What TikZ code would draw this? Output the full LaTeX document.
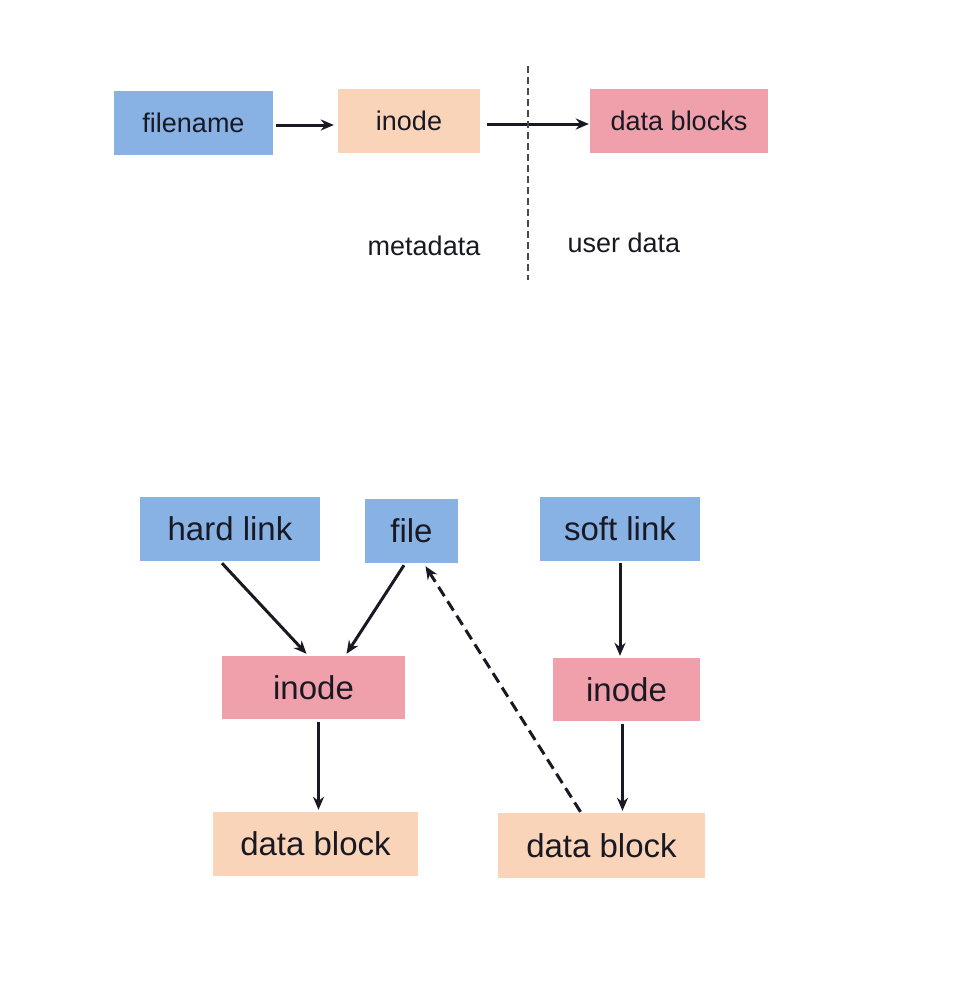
\documentclass[tikz,border=0pt]{standalone}
\usepackage{fontspec}
\setmainfont{Liberation Sans}
\usepackage{tikz}
\usetikzlibrary{arrows.meta, positioning, calc}
\definecolor{myblue}{RGB}{137,178,228}
\definecolor{mypeach}{RGB}{250,212,184}
\definecolor{mypink}{RGB}{240,160,170}
\definecolor{mydark}{RGB}{25,25,35}
\tikzset{
  bluebox/.style={rectangle, fill=myblue, inner sep=0pt, text=mydark},
  peachbox/.style={rectangle, fill=mypeach, inner sep=0pt, text=mydark},
  pinkbox/.style={rectangle, fill=mypink, inner sep=0pt, text=mydark},
  topfont/.style={font=\fontsize{27}{30}\selectfont},
  botfont/.style={font=\fontsize{33}{36}\selectfont},
  arrow/.style={-{Stealth[length=13pt, width=11pt]}, line width=3pt, color=mydark},
  dasharrow/.style={-{Stealth[length=13pt, width=11pt]}, line width=3pt, color=mydark, dash pattern=on 11pt off 6pt},
  divider/.style={line width=2pt, color=mydark!80, dash pattern=on 7pt off 4pt}
}
\begin{document}
\begin{tikzpicture}[x=1pt, y=-1pt]
  \useasboundingbox (0,0) rectangle (953,990);
  % Top: file name -> inode -> data
  \node[bluebox, topfont, minimum width=159pt, minimum height=64pt] (fname) at (193.5,123) {filename};
  \node[peachbox, topfont, minimum width=142pt, minimum height=64pt] (ino) at (409,121) {inode};
  \node[pinkbox, topfont, minimum width=178pt, minimum height=64pt] (blocks) at (679,121) {data blocks};
  \node[topfont, text=mydark] (meta) at (424,246) {metadata};
  \node[topfont, text=mydark] (udata) at (624,243) {user data};
  \coordinate (divtop) at (528,66);
  \coordinate (divbot) at (528,280);

  \draw[arrow] ([xshift=3pt, yshift=-2pt]fname.east) -- ([xshift=-4pt, yshift=-4pt]ino.west);
  \draw[arrow] ([xshift=7pt, yshift=-3pt]ino.east) -- ([xshift=-1pt, yshift=-3pt]blocks.west);
  \draw[divider] (divtop) -- (divbot);

  % Bottom: hard link and soft link
  \node[bluebox, botfont, minimum width=180pt, minimum height=64pt] (hard) at (230,529) {hard link};
  \node[bluebox, botfont, minimum width=93pt, minimum height=64pt] (file) at (411.5,531) {file};
  \node[bluebox, botfont, minimum width=160pt, minimum height=64pt] (soft) at (620,529) {soft link};
  \node[pinkbox, botfont, minimum width=183pt, minimum height=63pt] (inoA) at (313.5,687.5) {inode};
  \node[pinkbox, botfont, minimum width=147pt, minimum height=63pt] (inoB) at (626.5,689.5) {inode};
  \node[peachbox, botfont, minimum width=205pt, minimum height=64pt] (blkA) at (315.5,844) {data block};
  \node[peachbox, botfont, minimum width=207pt, minimum height=65pt] (blkB) at (601.5,845.5) {data block};

  \draw[arrow] ([xshift=-8pt, yshift=-2pt]hard.south) -- ([xshift=-7pt, yshift=2pt]inoA.north);
  \draw[arrow] ([xshift=-7.5pt, yshift=-2pt]file.south) -- ([xshift=33pt, yshift=2pt]inoA.north);
  \draw[arrow] ([yshift=-2pt]soft.south) -- ([yshift=2pt]inoB.north -| soft.south);
  \draw[arrow] ([xshift=5pt, yshift=-3pt]inoA.south) -- ([xshift=3pt, yshift=2pt]blkA.north);
  \draw[arrow] ([xshift=-4pt, yshift=-3pt]inoB.south) -- ([xshift=21pt, yshift=2pt]blkB.north);
  \draw[dasharrow] ([xshift=-21pt, yshift=1pt]blkB.north) -- ([xshift=14pt, yshift=-3pt]file.south);
\end{tikzpicture}
\end{document}
